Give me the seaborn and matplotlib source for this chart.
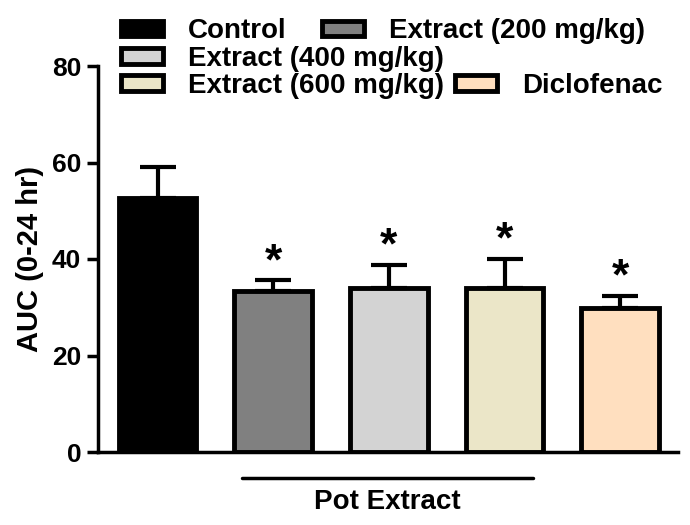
import matplotlib
matplotlib.use("Agg")
import matplotlib.pyplot as plt
from matplotlib.patches import Patch
import seaborn as sns
import pandas as pd

groups = ["Control", "Extract (200 mg/kg)", "Extract (400 mg/kg)",
          "Extract (600 mg/kg)", "Diclofenac"]
auc_mean = [52.6, 33.4, 34.0, 34.0, 29.8]
auc_sem = [6.5, 2.2, 4.8, 6.1, 2.6]
significant = [False, True, True, True, True]
colors = ["#000000", "#808080", "#d3d3d3", "#ebe6c8", "#ffdfbf"]


def main():
    sns.set_style("white", {"axes.edgecolor": "black", "text.color": "black",
                            "axes.labelcolor": "black", "ytick.color": "black",
                            "xtick.color": "black"})
    plt.rcParams["font.family"] = ["Liberation Sans", "DejaVu Sans"]
    plt.rcParams["font.weight"] = "bold"

    df = pd.DataFrame({"group": groups, "auc": auc_mean})

    fig = plt.figure(figsize=(6.9, 5.25), dpi=100)
    ax = fig.add_axes([98 / 690, 1 - 452 / 525, 580 / 690, 386 / 525])

    sns.barplot(data=df, x="group", y="auc", hue="group", palette=colors,
                saturation=1, edgecolor="black", linewidth=3.5, width=0.67,
                legend=False, ax=ax)

    xs = list(range(len(groups)))
    ax.errorbar(xs, auc_mean, yerr=[[0] * len(groups), auc_sem], fmt="none",
                ecolor="black", elinewidth=3, capsize=13, capthick=3)

    for x, m, s, sig in zip(xs, auc_mean, auc_sem, significant):
        if sig:
            ax.annotate("*", (x, m + s), xytext=(0, -2), textcoords="offset points",
                        ha="center", va="bottom", fontsize=32, fontweight="bold",
                        color="black")

    ax.set_ylim(0, 80)
    ax.set_xlim(-0.515, 4.5)
    ax.set_yticks([0, 20, 40, 60, 80])
    ax.set_xticks([])
    ax.set_xlabel("")
    ax.set_ylabel("AUC (0-24 hr)", fontsize=21, fontweight="bold", labelpad=6,
                  color="black")
    ax.tick_params(axis="y", left=True, length=8, width=2.5, labelsize=19, pad=4,
                   colors="black")
    for lab in ax.get_yticklabels():
        lab.set_fontweight("bold")

    sns.despine(ax=ax)
    ax.spines["left"].set_linewidth(2.5)
    ax.spines["bottom"].set_linewidth(2.5)
    ax.spines["left"].set_color("black")
    ax.spines["bottom"].set_color("black")

    # "Pot Extract" bracket under the extract bars
    ax.plot([0.73, 3.25], [-5.4, -5.4], color="black", lw=2.5, clip_on=False)
    ax.text(1.99, -10.3, "Pot Extract", ha="center", va="center",
            fontsize=20, fontweight="bold", color="black")

    # legend, laid out like the original (one legend per entry)
    pos = [(121, 31.5), (322, 31.5), (121, 59), (121, 86), (455, 86)]
    for g, c, (px, py) in zip(groups, colors, pos):
        h = Patch(facecolor=c, edgecolor="black", linewidth=3.5)
        leg = fig.legend([h], [g], loc="center left",
                         bbox_to_anchor=(px / 690, 1 - py / 525),
                         frameon=False, fontsize=20, borderpad=0,
                         borderaxespad=0, handlelength=1.5, handleheight=0.48,
                         handletextpad=0.9)
        for t in leg.get_texts():
            t.set_fontweight("bold")
            t.set_color("black")

    fig.savefig("out.png", dpi=100)


main()
